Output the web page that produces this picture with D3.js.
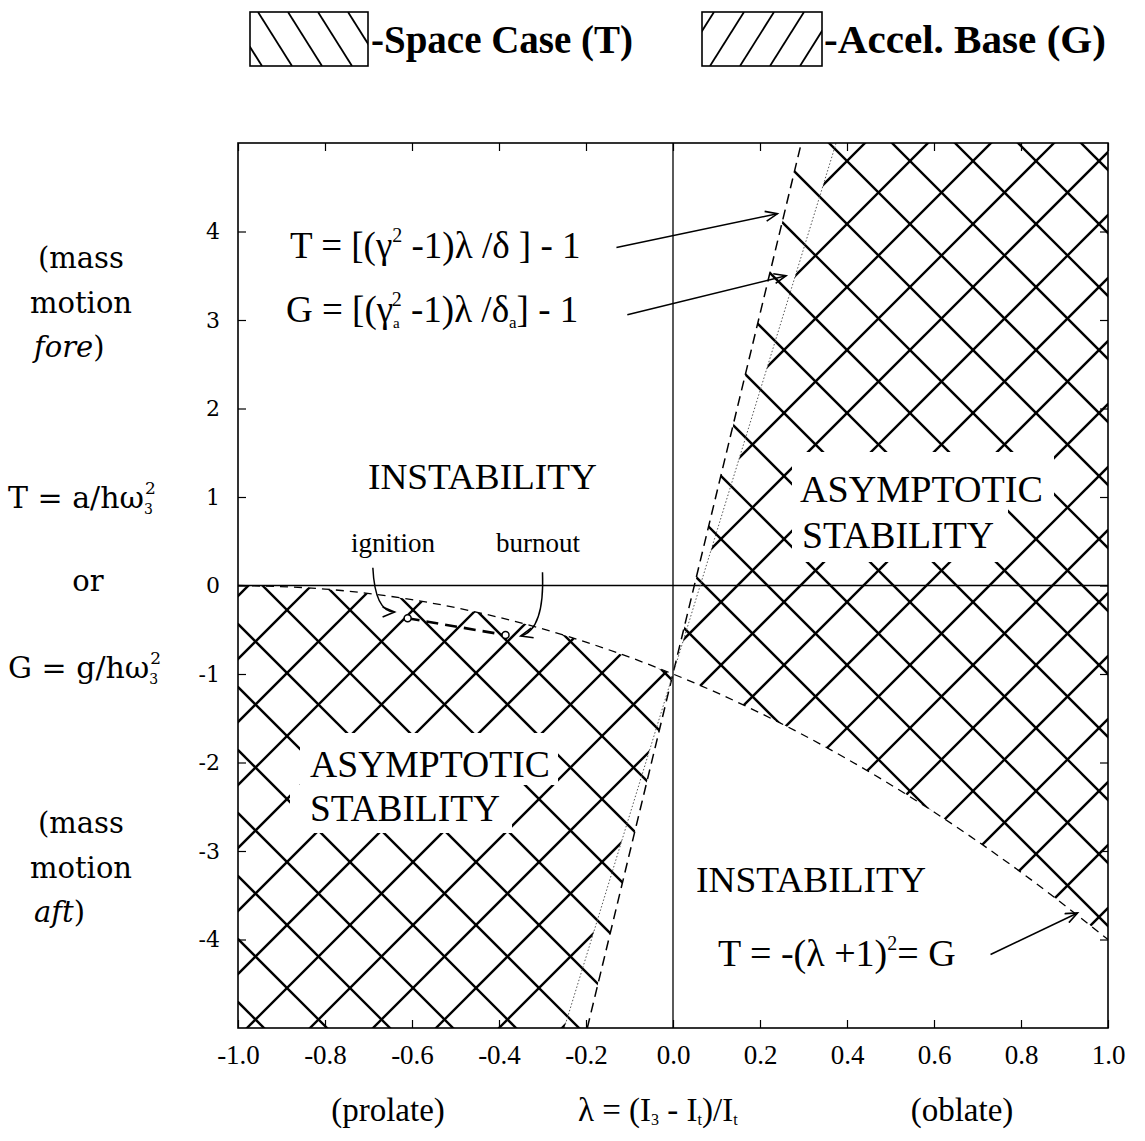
<!DOCTYPE html>
<html>
<head>
<meta charset="utf-8">
<script src="https://cdn.jsdelivr.net/npm/d3@7"></script>
<style>
  body { margin: 0; background: #fff; }
  svg { display: block; font-family: "Liberation Serif", "Times New Roman", serif; }
</style>
</head>
<body>
<svg id="chart" width="1145" height="1141"></svg>
<script>
// axis ticks
const xTicks = [-1.0, -0.8, -0.6, -0.4, -0.2, 0.0, 0.2, 0.4, 0.6, 0.8, 1.0];
const yTicks = [-4, -3, -2, -1, 0, 1, 2, 3, 4];

// T = -(lambda+1)^2 = G boundary
const boundaryLambda = [-1.0, -0.8, -0.6, -0.4, -0.2, 0.0, 0.2, 0.4, 0.6, 0.8, 1.0];
const boundaryT = [0, -0.04, -0.16, -0.36, -0.64, -1.0, -1.44, -1.96, -2.56, -3.24, -4.0];

// steep stability limits, where they meet the bottom and top of the frame
const spaceLineLambda = [-0.197, 0.295];
const spaceLineT = [-5, 5];
const accelLineLambda = [-0.25, 0.375];
const accelLineT = [-5, 5];

// ignition -> burnout
const flightLambda = [-0.61, -0.385];
const flightT = [-0.37, -0.56];

const svg = d3.select('#chart');
svg.append('rect').attr('width', 1145).attr('height', 1141).attr('fill', '#fff');

const x = d3.scaleLinear().domain([-1, 1]).range([238, 1108]);
const y = d3.scaleLinear().domain([-5, 5]).range([1028, 143]);

const defs = svg.append('defs');
defs.append('marker')
    .attr('id', 'arrow')
    .attr('markerUnits', 'userSpaceOnUse')
    .attr('markerWidth', 16).attr('markerHeight', 12)
    .attr('refX', 13).attr('refY', 6)
    .attr('orient', 'auto')
    .append('path')
    .attr('d', 'M1,1 L13,6 L1,11')
    .attr('fill', 'none').attr('stroke', '#000').attr('stroke-width', 1.6);

const boundary = boundaryLambda.map((l, i) => [l, boundaryT[i]]);
const curveGen = d3.line().x(d => x(d[0])).y(d => y(d[1])).curve(d3.curveMonotoneX);

function rightRegion(lineLambda, lineT){
    const pts = boundary.filter(d => d[0] >= 0);
    return curveGen(pts) + `L${x(1)},${y(5)}L${x(lineLambda[1])},${y(lineT[1])}Z`;
}
function leftRegion(lineLambda, lineT){
    const pts = boundary.filter(d => d[0] <= 0);
    return curveGen(pts) + `L${x(lineLambda[0])},${y(lineT[0])}L${x(-1)},${y(-5)}Z`;
}

function addClip(id, d){
    defs.append('clipPath').attr('id', id).append('path').attr('d', d);
}
addClip('spaceR', rightRegion(spaceLineLambda, spaceLineT));
addClip('spaceL', leftRegion(spaceLineLambda, spaceLineT));
addClip('accelR', rightRegion(accelLineLambda, accelLineT));
addClip('accelL', leftRegion(accelLineLambda, accelLineT));

// hatching: "\" for space case, "/" for accel base
const gap = 63;
function hatch(clipId, dir, phase){
    const g = svg.append('g').attr('clip-path', `url(#${clipId})`);
    const lines = [];
    for (let c = phase - 20 * gap; c < 2600; c += gap) {
        if (dir === 'back') lines.push([c, 0, c + 1141, 1141]);
        else lines.push([c, 0, c - 1141, 1141]);
    }
    g.selectAll('line').data(lines).enter().append('line')
        .attr('x1', d => d[0]).attr('y1', d => d[1])
        .attr('x2', d => d[2]).attr('y2', d => d[3])
        .attr('stroke', '#000').attr('stroke-width', 2.4);
}
hatch('spaceR', 'back', 56);
hatch('spaceL', 'back', 55);
hatch('accelR', 'fwd', 0);
hatch('accelL', 'fwd', 15);

// white boxes behind the region labels
const masks = [
    [792, 452, 262, 56], [792, 508, 216, 54],
    [300, 733, 258, 52], [290, 785, 222, 48]
];
svg.selectAll('.mask').data(masks).enter().append('rect')
    .attr('class', 'mask')
    .attr('x', d => d[0]).attr('y', d => d[1])
    .attr('width', d => d[2]).attr('height', d => d[3])
    .attr('fill', '#fff');

// zero lines
svg.append('line').attr('x1', x(0)).attr('x2', x(0)).attr('y1', y(5)).attr('y2', y(-5))
    .attr('stroke', '#000').attr('stroke-width', 1.3);
svg.append('line').attr('x1', x(-1)).attr('x2', x(1)).attr('y1', y(0)).attr('y2', y(0))
    .attr('stroke', '#000').attr('stroke-width', 1.3);

// boundary curves
svg.append('path').attr('d', curveGen(boundary))
    .attr('fill', 'none').attr('stroke', '#000').attr('stroke-width', 1.3)
    .attr('stroke-dasharray', '8,6');
const straight = d3.line().x(d => x(d[0])).y(d => y(d[1]));
svg.append('path').attr('d', straight(spaceLineLambda.map((l, i) => [l, spaceLineT[i]])))
    .attr('fill', 'none').attr('stroke', '#000').attr('stroke-width', 1.5)
    .attr('stroke-dasharray', '10,6');
svg.append('path').attr('d', straight(accelLineLambda.map((l, i) => [l, accelLineT[i]])))
    .attr('fill', 'none').attr('stroke', '#555').attr('stroke-width', 1)
    .attr('stroke-dasharray', '1.5,2');

// frame
svg.append('rect').attr('x', x(-1)).attr('y', y(5))
    .attr('width', x(1) - x(-1)).attr('height', y(-5) - y(5))
    .attr('fill', 'none').attr('stroke', '#000').attr('stroke-width', 1.6);

// axes (ticks point inward)
const fmt = d => d3.format('.1f')(d).replace('−', '-');
const xAxis = svg.append('g').attr('transform', `translate(0,${y(-5)})`)
    .call(d3.axisBottom(x).tickValues(xTicks).tickSizeInner(-8).tickSizeOuter(0).tickPadding(17).tickFormat(fmt));
xAxis.select('.domain').remove();
xAxis.selectAll('text').style('font-family', '"Liberation Serif", serif').style('font-size', '27px').attr('fill', '#000');

const yAxis = svg.append('g').attr('transform', `translate(${x(-1)},0)`)
    .call(d3.axisLeft(y).tickValues(yTicks).tickSizeInner(-8).tickSizeOuter(0).tickPadding(18).tickFormat(d => String(d)));
yAxis.select('.domain').remove();
yAxis.selectAll('text').style('font-family', '"DejaVu Serif", serif').style('font-size', '22px').attr('fill', '#000');

const topAxis = svg.append('g').attr('transform', `translate(0,${y(5)})`)
    .call(d3.axisTop(x).tickValues(xTicks).tickSizeInner(-8).tickSizeOuter(0).tickFormat(''));
topAxis.select('.domain').remove();
const rightAxis = svg.append('g').attr('transform', `translate(${x(1)},0)`)
    .call(d3.axisRight(y).tickValues(yTicks).tickSizeInner(-8).tickSizeOuter(0).tickFormat(''));
rightAxis.select('.domain').remove();
svg.selectAll('.tick line').attr('stroke', '#000').attr('stroke-width', 1.2);

// ignition -> burnout path
const flight = flightLambda.map((l, i) => [l, flightT[i]]);
svg.append('path').attr('d', straight(flight))
    .attr('fill', 'none').attr('stroke', '#000').attr('stroke-width', 2.6)
    .attr('stroke-dasharray', '12,7');
svg.selectAll('.flightPt').data(flight).enter().append('circle')
    .attr('class', 'flightPt')
    .attr('cx', d => x(d[0])).attr('cy', d => y(d[1])).attr('r', 3.5)
    .attr('fill', '#fff').attr('stroke', '#000').attr('stroke-width', 1.5);

// text helper with sub/superscripts
function richText(xPos, yPos, parts, size, family, anchor){
    const t = svg.append('text').attr('x', xPos).attr('y', yPos)
        .style('font-size', size + 'px').attr('fill', '#000')
        .attr('text-anchor', anchor || 'start');
    if (family) t.style('font-family', family);
    let shift = 0;
    parts.forEach(p => {
        const target = p.shift || 0;
        const s = t.append('tspan').text(p.t).attr('dy', target - shift);
        if (p.dx) s.attr('dx', p.dx);
        if (p.size) s.style('font-size', p.size + 'px');
        if (p.italic) s.style('font-style', 'italic');
        shift = target;
    });
    return t;
}
function plainText(xPos, yPos, str, size, opts){
    opts = opts || {};
    const t = svg.append('text').attr('x', xPos).attr('y', yPos).text(str)
        .style('font-size', size + 'px').attr('fill', '#000')
        .attr('text-anchor', opts.anchor || 'start');
    if (opts.family) t.style('font-family', opts.family);
    if (opts.weight) t.style('font-weight', opts.weight);
    if (opts.len) t.attr('textLength', opts.len).attr('lengthAdjust', 'spacingAndGlyphs');
    return t;
}

// legend
function legendBox(bx, by, bw, bh, dir){
    const id = 'lg' + dir;
    defs.append('clipPath').attr('id', id).append('rect')
        .attr('x', bx).attr('y', by).attr('width', bw).attr('height', bh);
    const g = svg.append('g').attr('clip-path', `url(#${id})`);
    const run = 34;
    for (let k = -2; k < 6; k++) {
        const x0 = bx + 8 + k * 30;
        if (dir === 'back') g.append('line').attr('x1', x0).attr('y1', by).attr('x2', x0 + run).attr('y2', by + bh);
        else g.append('line').attr('x1', x0 + run).attr('y1', by).attr('x2', x0).attr('y2', by + bh);
    }
    g.selectAll('line').attr('stroke', '#000').attr('stroke-width', 1.8);
    svg.append('rect').attr('x', bx).attr('y', by).attr('width', bw).attr('height', bh)
        .attr('fill', 'none').attr('stroke', '#000').attr('stroke-width', 1.6);
}
legendBox(250, 12, 118, 54, 'back');
plainText(371, 53, '-Space Case (T)', 40, {weight: 'bold', len: 262});
legendBox(702, 12, 120, 54, 'fwd');
plainText(824, 53, '-Accel. Base (G)', 40, {weight: 'bold', len: 282});

// left side labels
const side = '"DejaVu Serif", serif';
plainText(38, 268, '(mass', 29, {family: side});
plainText(30, 313, 'motion', 29, {family: side});
richText(34, 357, [{t: 'fore', italic: true}, {t: ')'}], 29, side);
richText(8, 508, [{t: 'T = a/hω'}, {t: '3', shift: 6, size: 14}, {t: '2', shift: -14, dx: -8, size: 17}], 30, side);
plainText(88, 591, 'or', 29, {family: side, anchor: 'middle'});
richText(8, 678, [{t: 'G = g/hω'}, {t: '3', shift: 6, size: 14}, {t: '2', shift: -14, dx: -8, size: 17}], 30, side);
plainText(38, 833, '(mass', 29, {family: side});
plainText(30, 878, 'motion', 29, {family: side});
richText(34, 922, [{t: 'aft', italic: true}, {t: ')'}], 29, side);

// bottom labels
plainText(388, 1121, '(prolate)', 33, {anchor: 'middle'});
richText(578, 1121, [{t: 'λ  = (I'}, {t: '3', shift: 4, size: 16}, {t: ' - I'}, {t: 't', shift: 4, size: 16}, {t: ')/I'}, {t: 't', shift: 4, size: 16}], 33);
plainText(962, 1121, '(oblate)', 33, {anchor: 'middle'});

// region labels
plainText(368, 489, 'INSTABILITY', 36, {len: 229});
plainText(800, 502, 'ASYMPTOTIC', 37, {len: 243});
plainText(802, 548, 'STABILITY', 37, {len: 192});
plainText(310, 777, 'ASYMPTOTIC', 37, {len: 240});
plainText(310, 821, 'STABILITY', 37, {len: 190});
plainText(696, 892, 'INSTABILITY', 36, {len: 230});

// formulas
richText(290, 258, [{t: 'T = [(γ'}, {t: '2', shift: -16, size: 20}, {t: ' -1)λ /δ ] - 1'}], 37);
richText(286, 322, [{t: 'G = [(γ'}, {t: 'a', shift: 6, size: 15}, {t: '2', shift: -16, dx: -8, size: 20}, {t: '  -1)λ /δ'}, {t: 'a', shift: 6, size: 17}, {t: '] - 1'}], 37);
richText(718, 966, [{t: 'T = -(λ +1)'}, {t: '2', shift: -16, size: 20}, {t: '= G'}], 38);

plainText(393, 552, 'ignition', 27, {anchor: 'middle'});
plainText(538, 552, 'burnout', 27, {anchor: 'middle'});

// annotation arrows
const arrows = [
    `M${x(-0.13)},${y(3.82)} L${x(0.24)},${y(4.2)}`,
    `M${x(-0.105)},${y(3.06)} L${x(0.26)},${y(3.5)}`,
    `M${x(0.73)},${y(-4.17)} L${x(0.93)},${y(-3.7)}`,
    `M${x(-0.69)},${y(0.2)} Q${x(-0.685)},${y(-0.3)} ${x(-0.64)},${y(-0.3)}`,
    `M${x(-0.30)},${y(0.15)} Q${x(-0.295)},${y(-0.5)} ${x(-0.35)},${y(-0.57)}`
];
svg.selectAll('.arrow').data(arrows).enter().append('path')
    .attr('class', 'arrow')
    .attr('d', d => d)
    .attr('fill', 'none').attr('stroke', '#000').attr('stroke-width', 1.5)
    .attr('marker-end', 'url(#arrow)');
</script>
</body>
</html>
